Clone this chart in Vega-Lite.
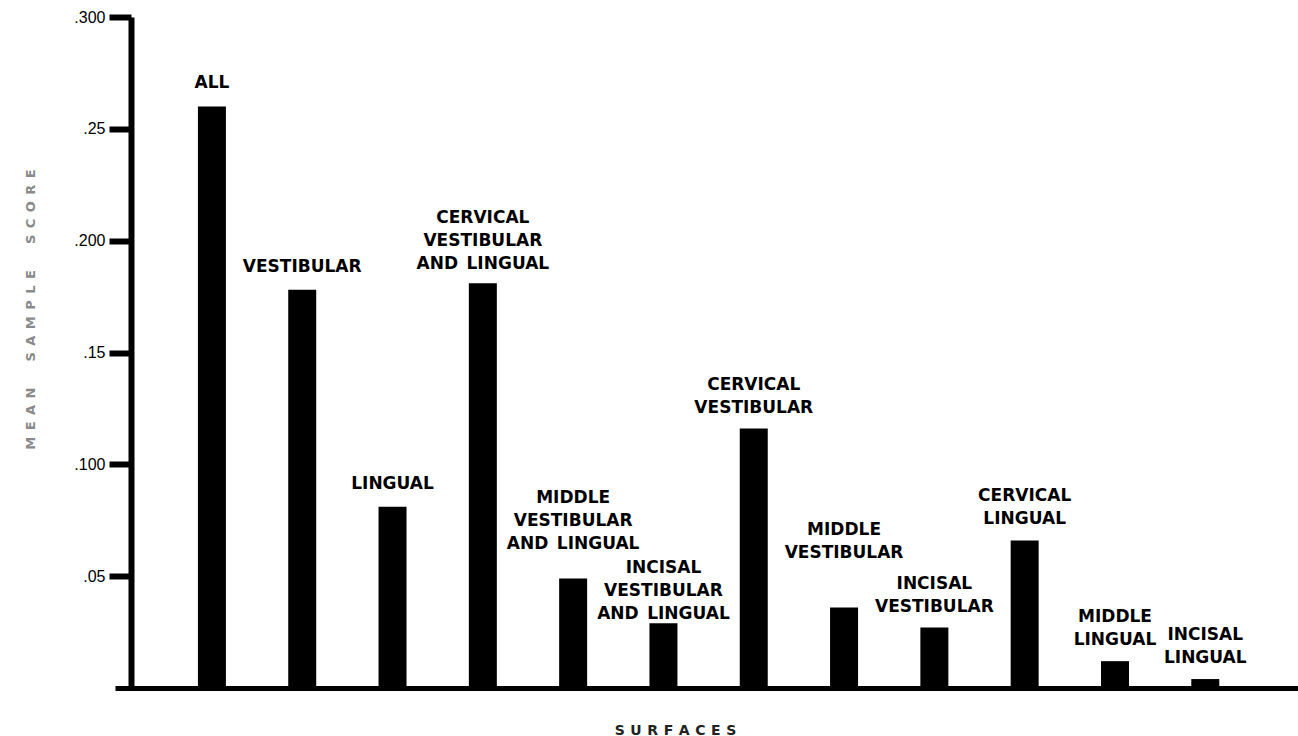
{
  "$schema": "https://vega.github.io/schema/vega-lite/v6.json",
  "autosize": "none",
  "width": 1183,
  "height": 671,
  "padding": {"left": 115, "top": 17, "right": 0, "bottom": 48},
  "background": "white",
  "config": {
    "view": {"stroke": null},
    "text": {"font": "DejaVu Sans", "fontSize": 17, "fontWeight": "bold", "color": "black", "baseline": "alphabetic", "align": "center", "lineHeight": 23}
  },
  "data": {
    "values": [
      {"surface": "All", "label": ["ALL"], "score": 0.260},
      {"surface": "Vestibular", "label": ["VESTIBULAR"], "score": 0.178},
      {"surface": "Lingual", "label": ["LINGUAL"], "score": 0.081},
      {"surface": "Cervical vestibular and lingual", "label": ["CERVICAL", "VESTIBULAR", "AND\u2002LINGUAL"], "score": 0.181},
      {"surface": "Middle vestibular and lingual", "label": ["MIDDLE", "VESTIBULAR", "AND\u2002LINGUAL"], "score": 0.049},
      {"surface": "Incisal vestibular and lingual", "label": ["INCISAL", "VESTIBULAR", "AND\u2002LINGUAL"], "score": 0.029},
      {"surface": "Cervical vestibular", "label": ["CERVICAL", "VESTIBULAR"], "score": 0.116},
      {"surface": "Middle vestibular", "label": ["MIDDLE", "VESTIBULAR"], "score": 0.036},
      {"surface": "Incisal vestibular", "label": ["INCISAL", "VESTIBULAR"], "score": 0.027},
      {"surface": "Cervical lingual", "label": ["CERVICAL", "LINGUAL"], "score": 0.066},
      {"surface": "Middle lingual", "label": ["MIDDLE", "LINGUAL"], "score": 0.012},
      {"surface": "Incisal lingual", "label": ["INCISAL", "LINGUAL"], "score": 0.004}
    ]
  },
  "encoding": {
    "x": {
      "field": "surface",
      "type": "nominal",
      "sort": null,
      "scale": {"paddingInner": 0.69, "paddingOuter": 0.895, "align": 0.513},
      "axis": {
        "title": "S\u2009\u2009U\u2009\u2009R\u2009\u2009F\u2009\u2009A\u2009\u2009C\u2009\u2009E\u2009\u2009S",
        "titleFont": "DejaVu Sans",
        "titleFontSize": 14,
        "titleFontWeight": "bold",
        "titleColor": "#222222",
        "titleX": 560,
        "titleY": 42,
        "titleAlign": "center",
        "titleBaseline": "middle",
        "titleAnchor": null,
        "labels": false,
        "ticks": false,
        "domain": true,
        "domainColor": "black",
        "domainWidth": 5,
        "grid": false
      }
    },
    "y": {
      "field": "score",
      "type": "quantitative",
      "scale": {"domain": [0, 0.3], "nice": false, "zero": true},
      "axis": {
        "offset": -16,
        "values": [0.05, 0.1, 0.15, 0.2, 0.25, 0.3],
        "labelExpr": "datum.value == 0.05 ? '.05' : datum.value == 0.1 ? '.100' : datum.value == 0.15 ? '.15' : datum.value == 0.2 ? '.200' : datum.value == 0.25 ? '.25' : '.300'",
        "labelFont": "Liberation Sans",
        "labelFontSize": 16,
        "labelColor": "black",
        "labelPadding": 4,
        "tickSize": 22,
        "tickWidth": 6,
        "tickColor": "black",
        "domainColor": "black",
        "domainWidth": 6,
        "grid": false,
        "title": "M\u2009\u2009\u200aE\u2009\u2009\u200aA\u2009\u2009\u200aN\u2003\u2003S\u2009\u2009\u200aA\u2009\u2009\u200aM\u2009\u2009\u200aP\u2009\u2009\u200aL\u2009\u2009\u200aE\u2003\u2003S\u2009\u2009\u200aC\u2009\u2009\u200aO\u2009\u2009\u200aR\u2009\u2009\u200aE",
        "titleFont": "DejaVu Sans",
        "titleFontSize": 13,
        "titleFontWeight": "bold",
        "titleColor": "#8a8a8a",
        "titleAngle": -90,
        "titleX": -101,
        "titleY": 292,
        "titleAlign": "center",
        "titleBaseline": "middle",
        "titleAnchor": null
      }
    }
  },
  "layer": [
    {"mark": {"type": "bar", "color": "black"}},
    {
      "transform": [{"filter": {"field": "surface", "oneOf": ["All", "Vestibular", "Lingual"]}}],
      "mark": {"type": "text", "dy": -18},
      "encoding": {"text": {"field": "label"}}
    },
    {
      "transform": [{"filter": {"field": "surface", "oneOf": ["Cervical vestibular", "Incisal vestibular", "Cervical lingual", "Middle lingual", "Incisal lingual"]}}],
      "mark": {"type": "text", "dy": -39},
      "encoding": {"text": {"field": "label"}}
    },
    {
      "transform": [{"filter": {"field": "surface", "oneOf": ["Middle vestibular"]}}],
      "mark": {"type": "text", "dy": -72},
      "encoding": {"text": {"field": "label"}}
    },
    {
      "transform": [{"filter": {"field": "surface", "oneOf": ["Cervical vestibular and lingual"]}}],
      "mark": {"type": "text", "dy": -60},
      "encoding": {"text": {"field": "label"}}
    },
    {
      "transform": [{"filter": {"field": "surface", "oneOf": ["Middle vestibular and lingual"]}}],
      "mark": {"type": "text", "dy": -75},
      "encoding": {"text": {"field": "label"}}
    },
    {
      "transform": [{"filter": {"field": "surface", "oneOf": ["Incisal vestibular and lingual"]}}],
      "mark": {"type": "text", "dy": -50},
      "encoding": {"text": {"field": "label"}}
    }
  ]
}
